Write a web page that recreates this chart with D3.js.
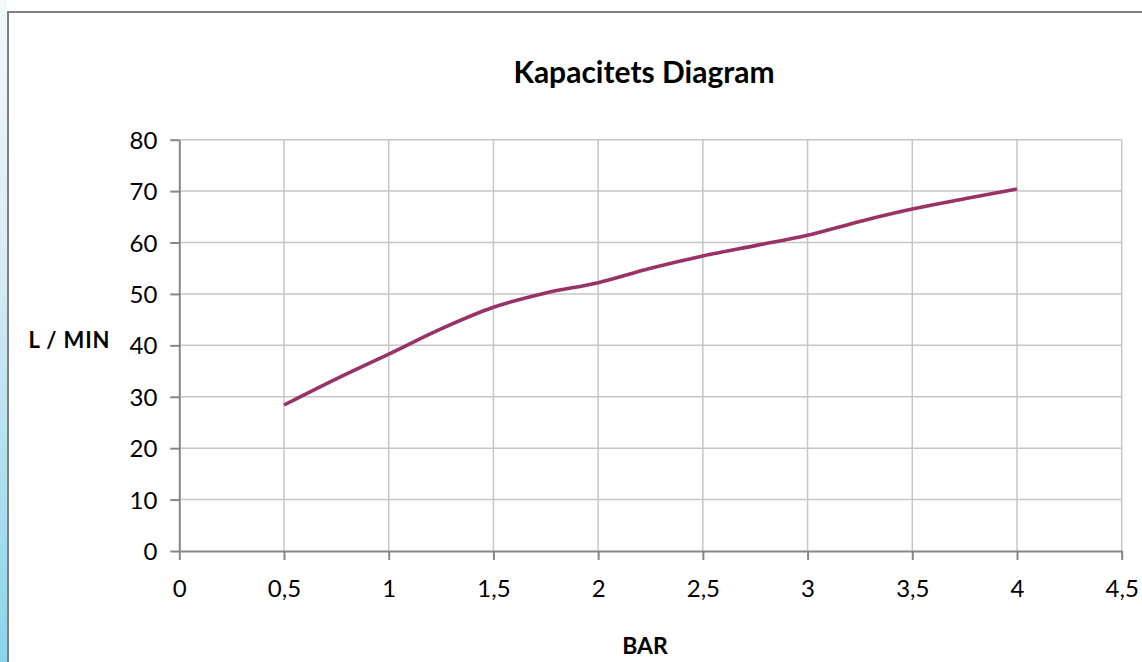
<!DOCTYPE html>
<html>
<head>
<meta charset="utf-8">
<script src="https://cdn.jsdelivr.net/npm/d3@7"></script>
<style>
  html, body { margin: 0; padding: 0; background: #ffffff; }
  svg { display: block; }
</style>
</head>
<body>
<svg id="chart" width="1142" height="662"></svg>
<script>
// ---- data ----
const barValues = [0.5, 0.75, 1, 1.25, 1.5, 1.75, 2, 2.25, 2.5, 2.75, 3, 3.25, 3.5, 3.75, 4];
const flowValues = [28.4, 33.5, 38.3, 43.2, 47.4, 50.2, 52.2, 55.0, 57.4, 59.4, 61.4, 64.1, 66.5, 68.5, 70.4];
const xTicks = [0, 0.5, 1, 1.5, 2, 2.5, 3, 3.5, 4, 4.5];
const yTicks = [0, 10, 20, 30, 40, 50, 60, 70, 80];
const titleText = "Kapacitets Diagram";
const xLabel = "BAR";
const yLabel = "L / MIN";

const W = 1142, H = 662;
const svg = d3.select("#chart");
const font = "Lato, 'Open Sans', 'Noto Sans', sans-serif";

// background (page behind the chart box)
const defs = svg.append("defs");
const g1 = defs.append("linearGradient").attr("id", "leftbg").attr("x1", 0).attr("y1", 0).attr("x2", 0).attr("y2", 1);
g1.append("stop").attr("offset", "0%").attr("stop-color", "#f4f8fb");
g1.append("stop").attr("offset", "40%").attr("stop-color", "#d8ebf5");
g1.append("stop").attr("offset", "100%").attr("stop-color", "#8ad5ea");
svg.append("rect").attr("x", 0).attr("y", 0).attr("width", 7).attr("height", H).attr("fill", "url(#leftbg)");

// chart box
svg.append("rect").attr("x", 8).attr("y", 12).attr("width", W + 10).attr("height", H + 10)
  .attr("fill", "#ffffff").attr("stroke", "#808080").attr("stroke-width", 2);

const x = d3.scaleLinear().domain([0, 4.5]).range([179.3, 1121.7]);
const y = d3.scaleLinear().domain([0, 80]).range([551, 139.7]);
const fmt = d => String(d).replace(".", ",");

// gridlines
svg.append("g").selectAll("line").data(xTicks.filter(d => d > 0)).join("line")
  .attr("x1", d => x(d)).attr("x2", d => x(d)).attr("y1", y(0)).attr("y2", y(80))
  .attr("stroke", "#c6c6c6").attr("stroke-width", 1.5);
svg.append("g").selectAll("line").data(yTicks.filter(d => d > 0)).join("line")
  .attr("x1", x(0)).attr("x2", x(4.5)).attr("y1", d => y(d)).attr("y2", d => y(d))
  .attr("stroke", "#c6c6c6").attr("stroke-width", 1.5);

// axes
const yAxis = svg.append("g").attr("transform", `translate(${x(0)},0)`)
  .call(d3.axisLeft(y).tickValues(yTicks).tickSize(9).tickSizeOuter(0).tickPadding(13).tickFormat(fmt));
const xAxis = svg.append("g").attr("transform", `translate(0,${y(0)})`)
  .call(d3.axisBottom(x).tickValues(xTicks).tickSize(9).tickSizeOuter(0).tickPadding(25).tickFormat(fmt));
[yAxis, xAxis].forEach(a => {
  a.select(".domain").attr("stroke", "#868686").attr("stroke-width", 2);
  a.selectAll(".tick line").attr("stroke", "#868686").attr("stroke-width", 2);
  a.selectAll(".tick text").attr("fill", "#000").style("font-family", font).style("font-size", "24px");
});
xAxis.selectAll(".tick text").attr("dy", "0.5em");
yAxis.selectAll(".tick text").attr("dy", "0.36em");

// line
const line = d3.line().x((d, i) => x(barValues[i])).y(d => y(d)).curve(d3.curveMonotoneX);
svg.append("path").datum(flowValues).attr("d", line)
  .attr("fill", "none").attr("stroke", "#993366").attr("stroke-width", 3.6)
  .attr("stroke-linejoin", "round");

// titles
svg.append("text").attr("x", 644).attr("y", 83).attr("text-anchor", "middle")
  .style("font-family", font).style("font-weight", "bold").style("font-size", "30px").text(titleText);
svg.append("text").attr("x", 69).attr("y", 348).attr("text-anchor", "middle")
  .style("font-family", font).style("font-weight", "bold").style("font-size", "22px")
  .attr("textLength", 81).attr("lengthAdjust", "spacing").text(yLabel);
svg.append("text").attr("x", 645).attr("y", 654).attr("text-anchor", "middle")
  .style("font-family", font).style("font-weight", "bold").style("font-size", "23px").text(xLabel);
</script>
</body>
</html>
